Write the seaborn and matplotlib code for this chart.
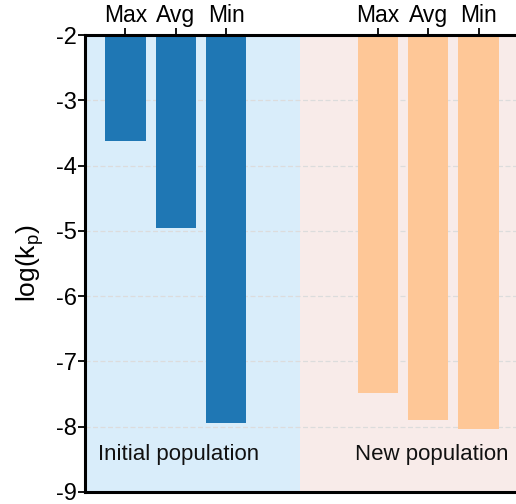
import matplotlib
matplotlib.use("Agg")
import matplotlib.pyplot as plt
import seaborn as sns
import pandas as pd

categories = ["Max", "Avg", "Min", "Max", "Avg", "Min"]
positions = [0, 1, 2, 5, 6, 7]
groups = ["Initial population"] * 3 + ["New population"] * 3
values = [-3.62, -4.96, -7.94, -7.48, -7.89, -8.04]

df = pd.DataFrame({"pos": positions, "val": values, "group": groups})

sns.set_theme(style="white")
plt.rcParams["font.family"] = ["Liberation Sans", "DejaVu Sans"]
plt.rcParams["mathtext.fontset"] = "custom"
plt.rcParams["mathtext.rm"] = "Liberation Sans"

fig = plt.figure(figsize=(5.16, 5.04), dpi=100)
ax = fig.add_axes([85 / 516, 1 - 492 / 504, (519 - 85) / 516, (492 - 35) / 504])

ax.axvspan(-0.8, 3.47, color="#d9edfa", zorder=0, lw=0)
ax.axvspan(3.47, 7.8, color="#f8ebe9", zorder=0, lw=0)

sns.barplot(data=df, x="pos", y="val", hue="group", native_scale=True,
            palette={"Initial population": "#1f77b4", "New population": "#fec797"},
            dodge=False, width=0.8, legend=False, ax=ax, zorder=2, errorbar=None,
            saturation=1, linewidth=0, edgecolor="none")

ax.set_xlim(-0.8, 7.8)
ax.set_ylim(-9, -2)
ax.set_yticks(range(-9, -1))
ax.set_yticklabels([str(v) for v in range(-9, -1)], fontsize=17)
for y in range(-8, -2):
    ax.axhline(y, color="#dcdcdc", lw=0.9, ls=(0, (4, 2)), zorder=1)

ax.xaxis.tick_top()
ax.set_xticks(positions)
ax.set_xticklabels(categories, fontsize=16.5)
ax.tick_params(axis="x", top=True, bottom=False, direction="out", length=5, width=1.3, pad=1, colors="black")
ax.tick_params(axis="y", left=True, direction="out", length=5, width=1.3, pad=1, colors="black")
ax.set_xlabel("")
ax.set_ylabel(r"log(k$_\mathregular{p}$)", fontsize=19, labelpad=7, color="black")

for s in ["left", "top", "bottom"]:
    ax.spines[s].set_linewidth(2.2)
    ax.spines[s].set_color("black")
ax.spines["right"].set_visible(False)

ax.text(1.05, -8.43, "Initial population", ha="center", va="center", fontsize=16, color="#111111")
ax.text(6.08, -8.43, "New population", ha="center", va="center", fontsize=16, color="#111111")

fig.savefig("out.png", dpi=100)
